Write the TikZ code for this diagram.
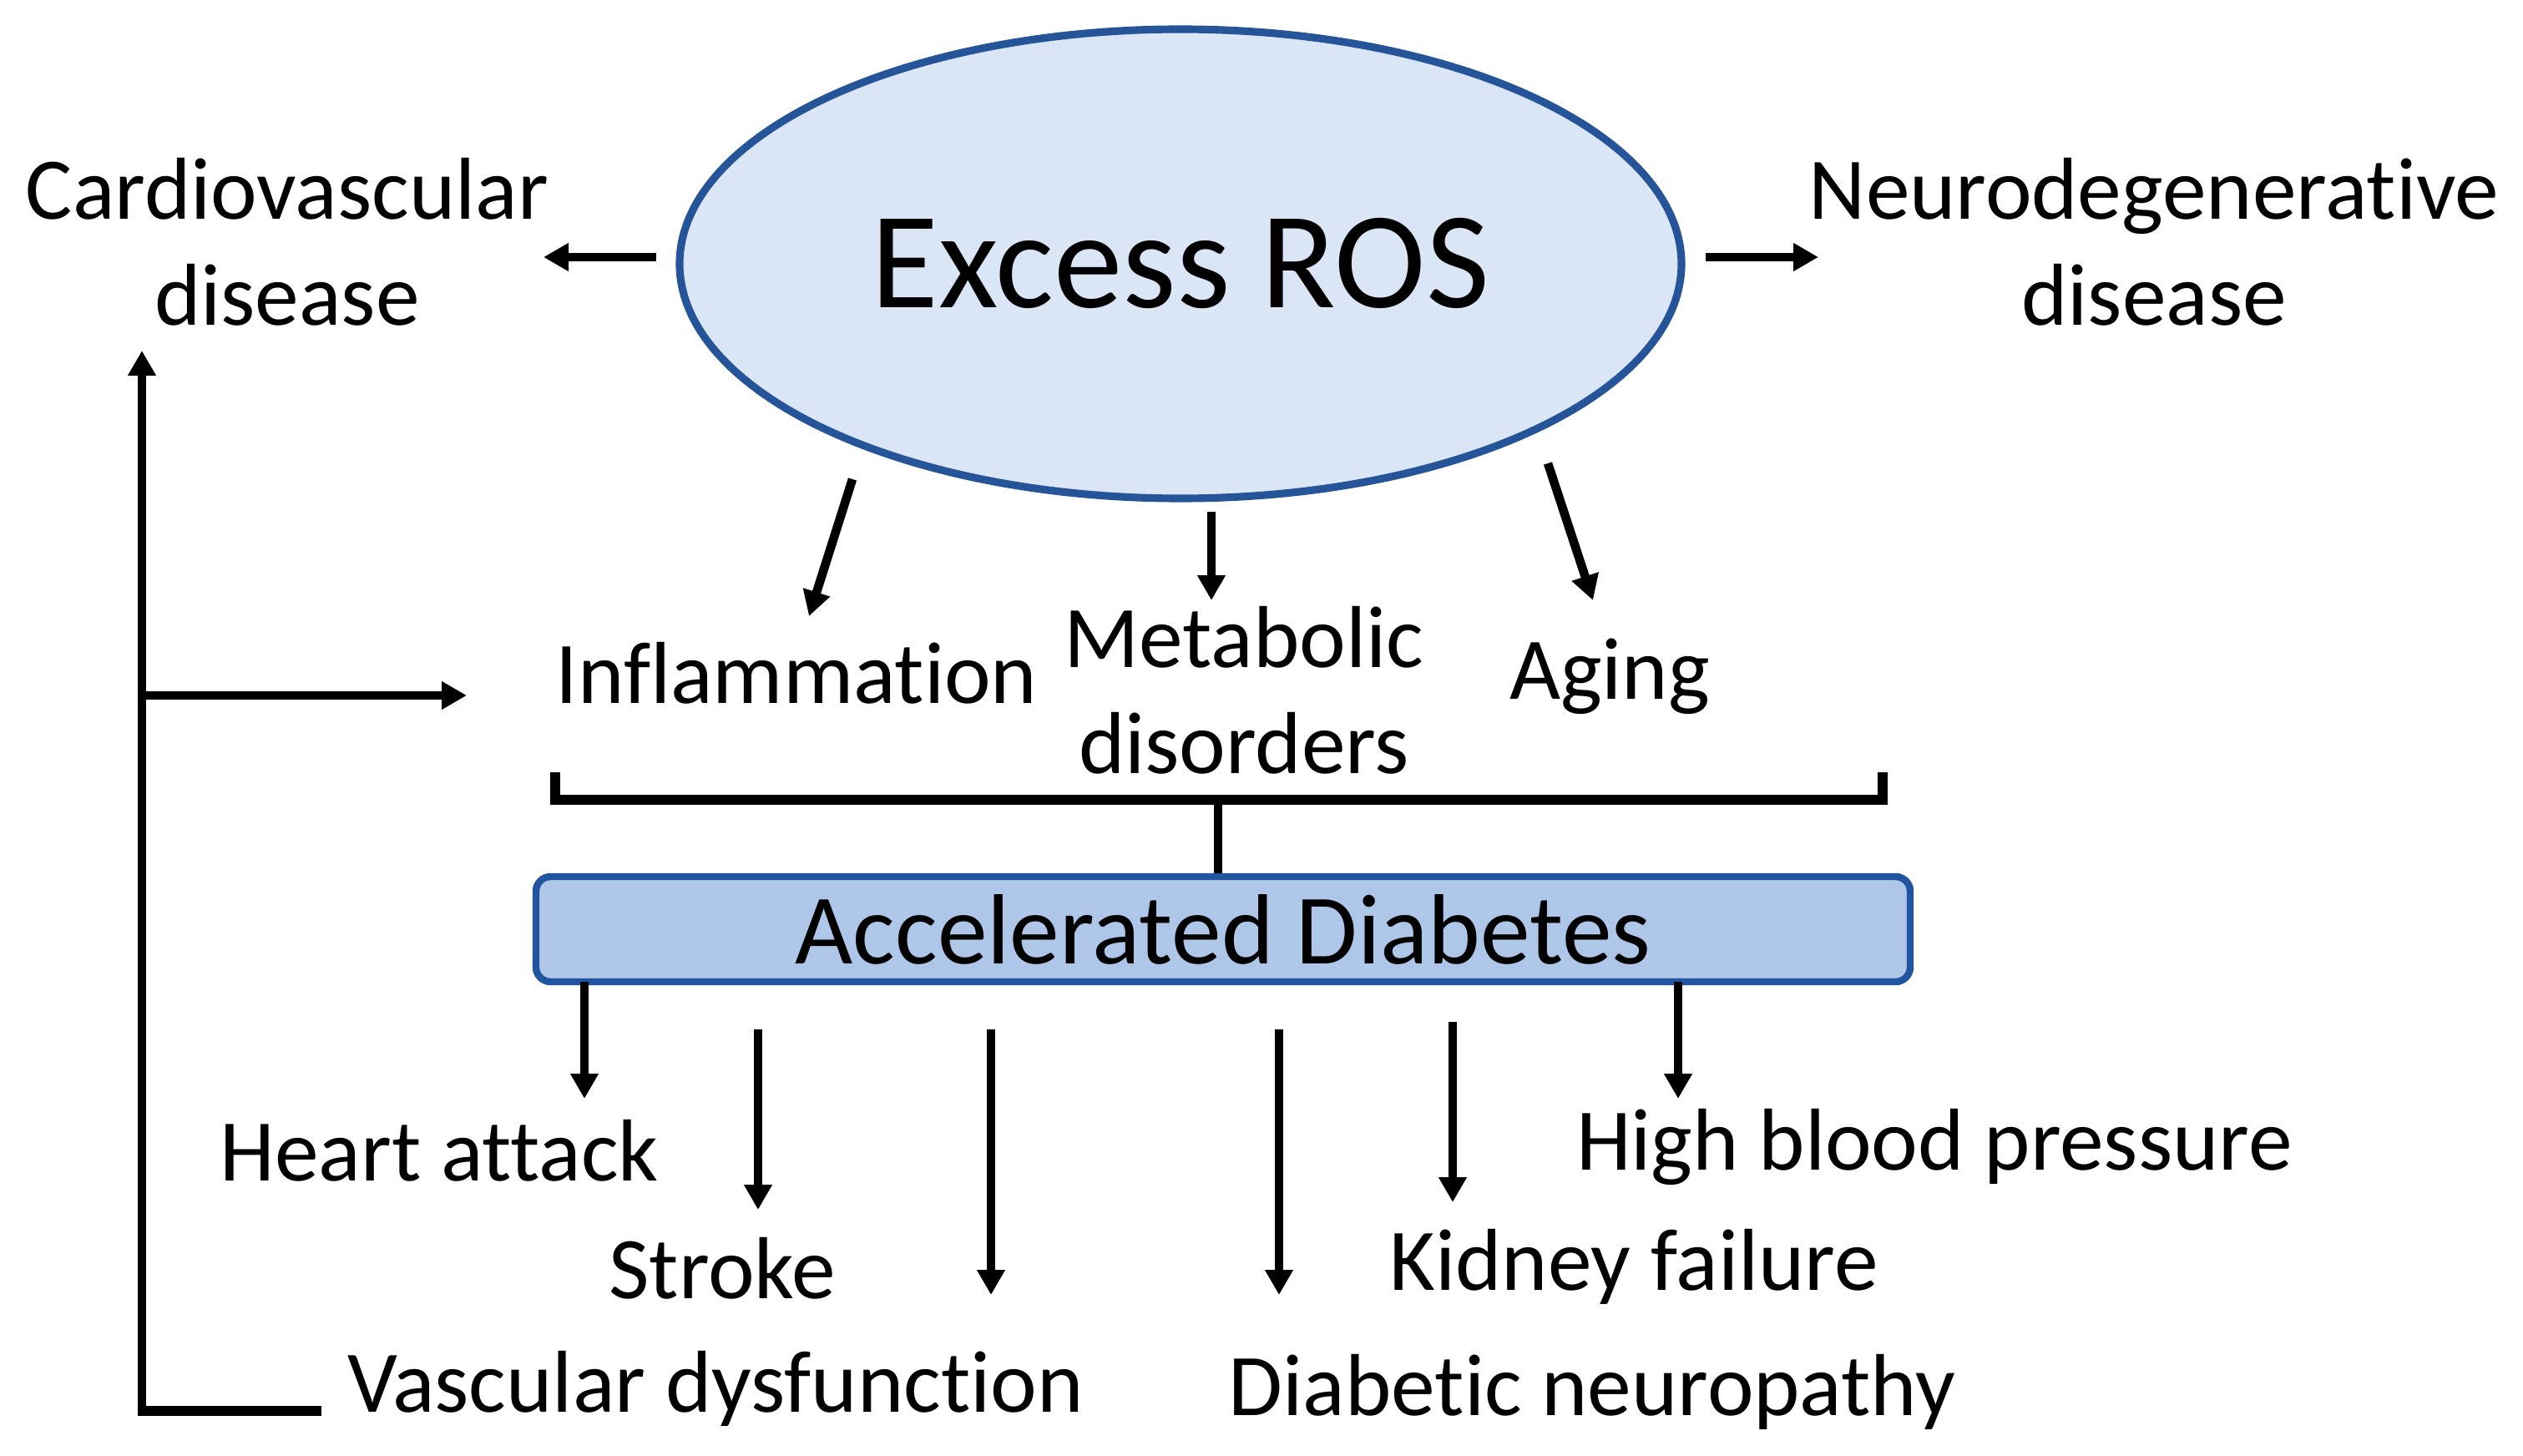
\documentclass[tikz,border=0pt]{standalone}
\usepackage{fontspec}
\setmainfont{Carlito}[Ligatures=NoCommon]
\usetikzlibrary{positioning,arrows.meta,shapes.geometric}
\definecolor{rosfill}{RGB}{218,230,245}
\definecolor{rosline}{RGB}{38,84,152}
\definecolor{diabfill}{RGB}{174,199,233}
\definecolor{diabline}{RGB}{33,85,160}

\begin{document}
\begin{tikzpicture}[
    lbl/.style={align=center, inner sep=0pt, font=\fontsize{30}{36}\selectfont},
    arr/.style={-{Triangle[length=3mm, width=3.2mm]}, line width=3pt},
  ]
  \useasboundingbox (0,0) rectangle (30.22,-17.44);

  % central ellipse and the two side diseases
  \node[ellipse, draw=rosline, line width=2.6pt, fill=rosfill,
        minimum width=12cm, minimum height=5.62cm,
        font=\fontsize{47}{56}\selectfont] (ros) at (14.14,-3.16) {Excess ROS};
  \node[lbl] (cardio) at (3.44,-2.90) {Cardiovascular\\disease};
  \node[lbl] (neuro)  at (25.80,-2.90) {Neurodegenerative\\disease};
  \draw[arr] (7.86,-3.08) coordinate (cardioa) -- (6.51,-3.08) coordinate (cardiob);
  \draw[arr] (20.43,-3.08) coordinate (neuroa) -- (21.78,-3.08) coordinate (neurob);

  % middle row
  \node[lbl] (infl)  at (9.54,-8.06) {Inflammation};
  \node[lbl] (metab) at (14.90,-8.27) {Metabolic\\disorders};
  \node[lbl] (aging) at (19.28,-8.10) {Aging};
  \foreach \n/\xa/\ya/\xb/\yb in {infl/10.21/5.74/9.69/7.38,
                                  metab/14.51/6.13/14.51/7.19,
                                  aging/18.54/5.55/19.08/7.19}
    \draw[arr] (\xa,-\ya) coordinate (\n a) -- (\xb,-\yb) coordinate (\n b);

  % bracket
  \draw[line width=3.2pt] (infl.west |- 0,-9.25) -- (infl.west |- 0,-9.58)
        -- (22.55,-9.58) coordinate (bracketr) -- (22.55,-9.25);

  % diabetes box
  \node[draw=diabline, line width=2.4pt, fill=diabfill, rounded corners=5pt,
        minimum width=16.46cm, minimum height=1.26cm,
        font=\fontsize{34}{40}\selectfont] (diab) at (14.65,-11.13) {Accelerated Diabetes};
  \draw[line width=2.6pt] (diab.north -| 14.59,0) -- (14.59,-9.58);

  % complications
  \node[lbl] (heart)  at (5.26,-13.78)  {Heart attack};
  \node[lbl] (stroke) at (8.65,-15.19)  {Stroke};
  \node[lbl] (vasc)   at (8.57,-16.63)  {Vascular dysfunction};
  \node[lbl] (dneuro) at (19.07,-16.67) {Diabetic neuropathy};
  \node[lbl] (kidney) at (19.57,-15.17) {Kidney failure};
  \node[lbl] (hbp)    at (23.17,-13.74) {High blood pressure};
  \foreach \n/\x/\ya/\yb in {heart/7.00/11.76/13.16, stroke/9.08/12.33/14.49,
                             vasc/11.87/12.33/15.51, dneuro/15.32/12.33/15.51,
                             kidney/17.40/12.24/14.40, hbp/20.10/11.76/13.16}
    \draw[arr] (\x,-\ya) coordinate (\n a) -- (\x,-\yb) coordinate (\n b);

  % feedback loop
  \coordinate (loopb) at (1.70,-16.90);
  \draw[line width=3.4pt] (3.85,-16.90) -- (loopb);
  \draw[arr] ([yshift=-1.7pt]loopb) -- (1.70,-4.20) coordinate (loopt);
  \draw[arr] (1.70,-8.33) coordinate (branch) -- (5.59,-8.33) coordinate (branchb);
\end{tikzpicture}
\end{document}
